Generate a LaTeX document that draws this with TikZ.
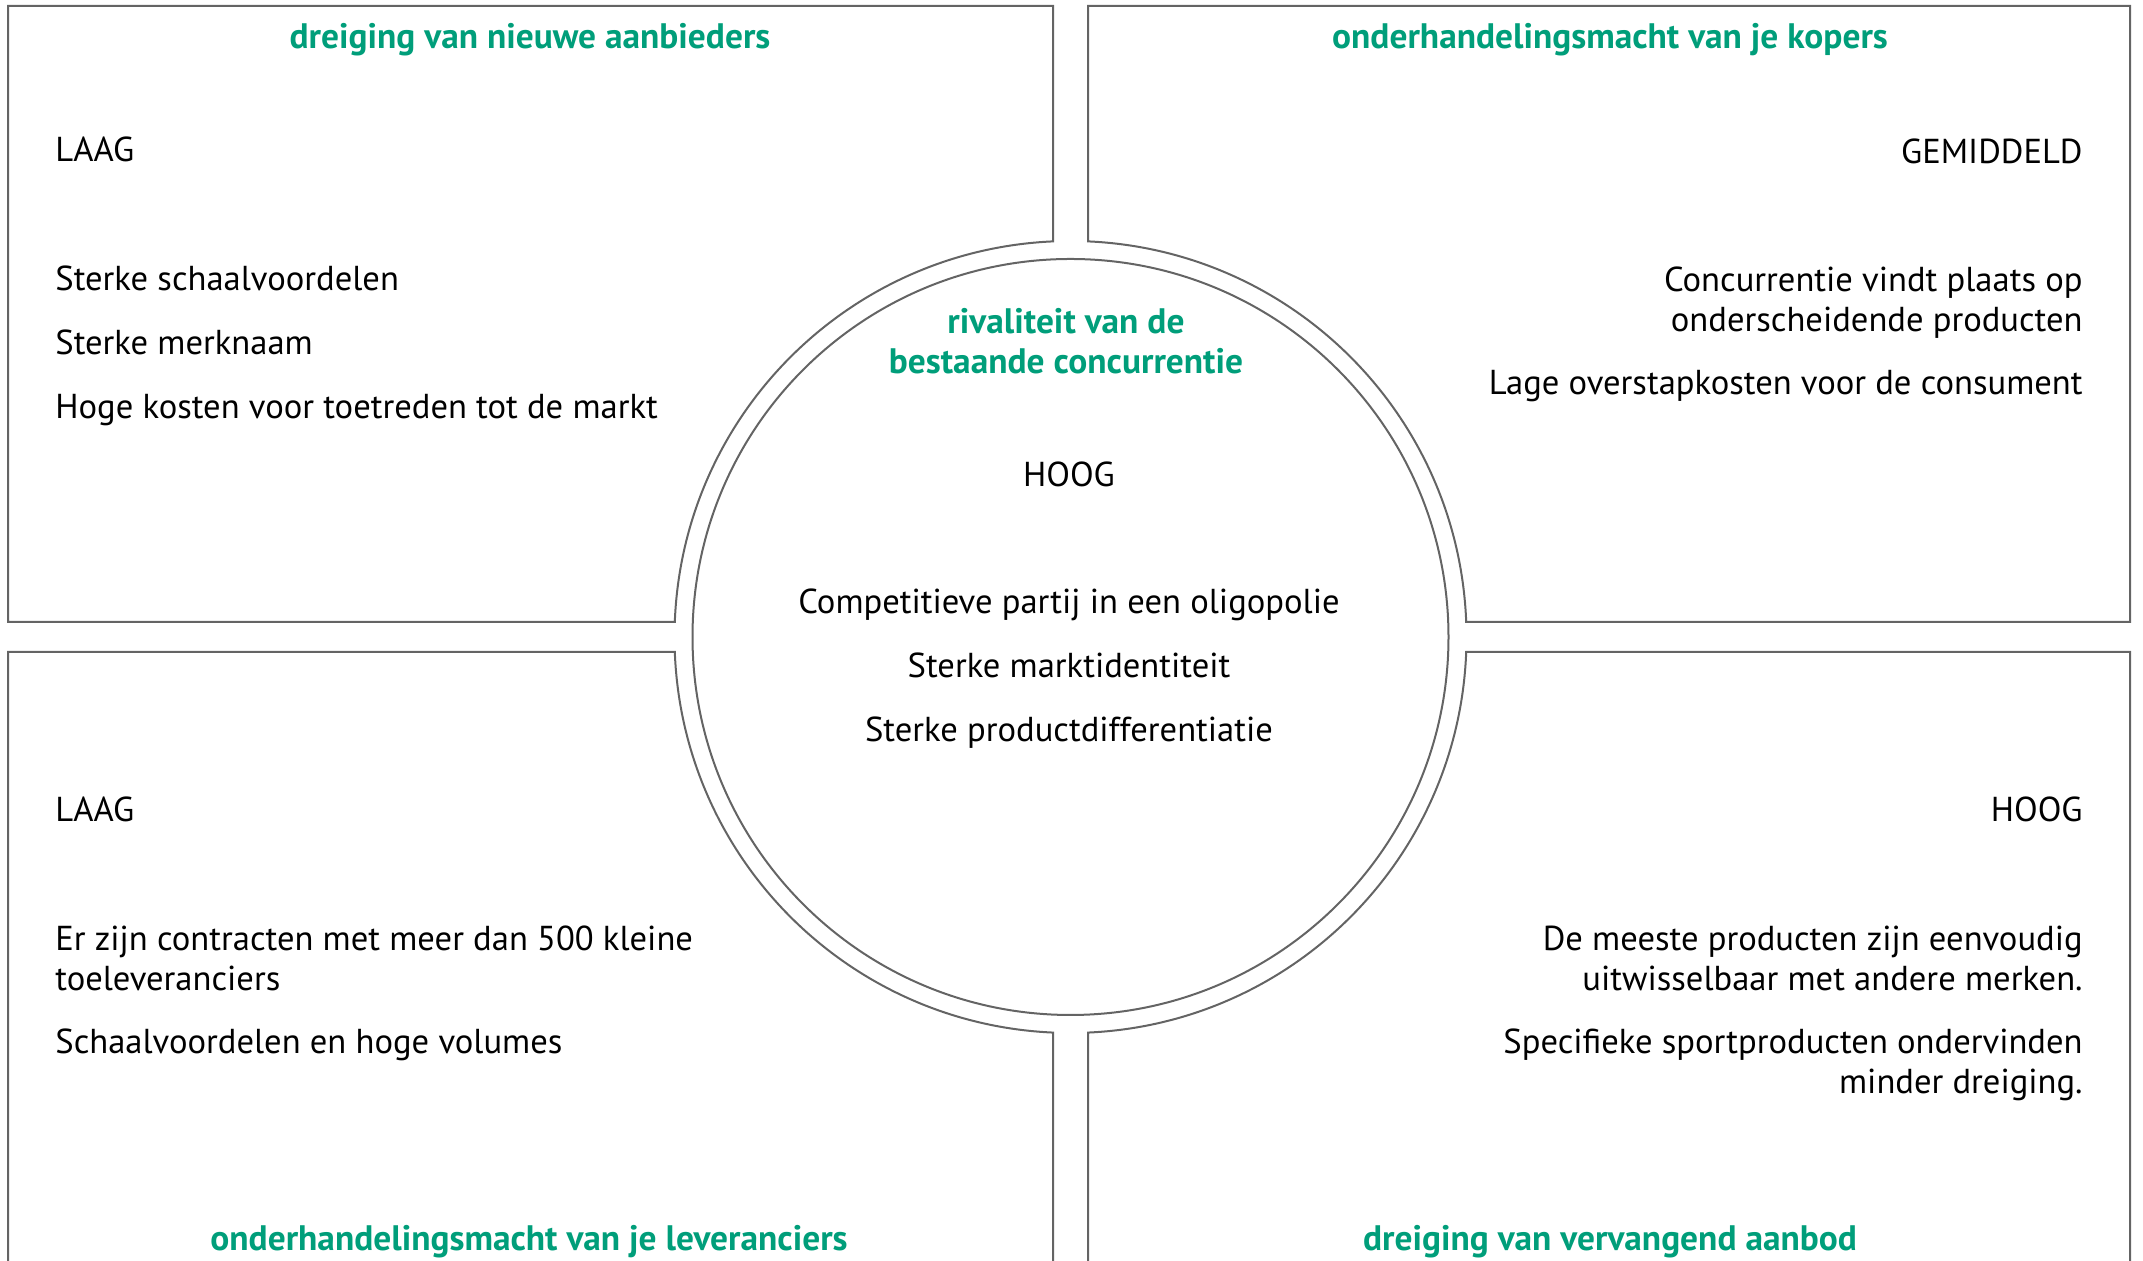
\documentclass[tikz,border=0pt]{standalone}
\usepackage{fontspec}
\setmainfont{PT Sans}
\usetikzlibrary{calc}
\definecolor{lijn}{RGB}{100,100,100}
\definecolor{groen}{RGB}{0,158,122}
\begin{document}
\begin{tikzpicture}[x=0.5pt,y=0.5pt,
  box/.style={draw=lijn,line width=1pt},
  body/.style={inner sep=0pt,font=\fontsize{17.3}{20}\selectfont,text=black},
  lefttxt/.style={body,anchor=base west,align=left},
  righttxt/.style={body,anchor=base east,align=right},
  midtxt/.style={body,anchor=base,align=center},
  lefttwo/.style={body,anchor=west,align=left},
  righttwo/.style={body,anchor=east,align=right},
  titel/.style={inner sep=0pt,font=\fontsize{17.7}{20}\selectfont\bfseries,text=groen,align=center,anchor=base},
  titeltwo/.style={titel,anchor=center}]
\useasboundingbox (0,0) rectangle (2143,1261);
\pgfmathsetmacro\ax{asin(17.5/396)}
\pgfmathsetmacro\ay{asin(15/396)}
\coordinate (C) at (1070.5,624);
% boxes
\pgfmathsetmacro\aa{90+\ax}\pgfmathsetmacro\ab{180-\ay}
\draw[box] (1053,1255) -- ([shift={(\aa:198pt)}]C) arc[start angle=\aa,end angle=\ab,radius=198pt] -- (8,639) -- (8,1255) -- cycle;
\pgfmathsetmacro\aa{90-\ax}\pgfmathsetmacro\ab{\ay}
\draw[box] (1088,1255) -- ([shift={(\aa:198pt)}]C) arc[start angle=\aa,end angle=\ab,radius=198pt] -- (2130,639) -- (2130,1255) -- cycle;
\pgfmathsetmacro\aa{270-\ax}\pgfmathsetmacro\ab{180+\ay}
\draw[box] (1053,-20) -- ([shift={(\aa:198pt)}]C) arc[start angle=\aa,end angle=\ab,radius=198pt] -- (8,609) -- (8,-20);
\pgfmathsetmacro\aa{270+\ax}\pgfmathsetmacro\ab{360-\ay}
\draw[box] (1088,-20) -- ([shift={(\aa:198pt)}]C) arc[start angle=\aa,end angle=\ab,radius=198pt] -- (2130,609) -- (2130,-20);
% inner circle
\draw[box] (C) circle[radius=189pt];
% top left
\node[titel] (tlt) at (530,1212) {dreiging van nieuwe aanbieders};
\node[lefttxt] (tl0) at (55,1099) {LAAG};
\node[lefttxt] (tl1) at (55,970) {Sterke schaalvoordelen};
\node[lefttxt] (tl2) at (55,906) {Sterke merknaam};
\node[lefttxt] (tl3) at (55,842) {Hoge kosten voor toetreden tot de markt};
% top right
\node[titel] (trt) at (1610,1212) {onderhandelingsmacht van je kopers};
\node[righttxt] (tr0) at (2083,1097) {GEMIDDELD};
\node[righttwo] (tr1) at (2083,958) {Concurrentie vindt plaats op\\onderscheidende producten};
\node[righttxt] (tr2) at (2083,866) {Lage overstapkosten voor de consument};
% centre
\node[titeltwo] (ct) at (1066,920) {rivaliteit van de\\bestaande concurrentie};
\node[midtxt] (c0) at (1069,774) {HOOG};
\node[midtxt] (c1) at (1069,647) {Competitieve partij in een oligopolie};
\node[midtxt] (c2) at (1069,583) {Sterke marktidentiteit};
\node[midtxt] (c3) at (1069,519) {Sterke productdifferentiatie};
% bottom left
\node[lefttxt] (bl0) at (55,439) {LAAG};
\node[lefttwo] (bl1) at (55,303) {Er zijn contracten met meer dan 500 kleine\\toeleveranciers};
\node[lefttxt] (bl2) at (55,207) {Schaalvoordelen en hoge volumes};
\node[titel] (blt) at (529,10) {onderhandelingsmacht van je leveranciers};
% bottom right
\node[righttxt] (br0) at (2083,439) {HOOG};
\node[righttwo] (br1) at (2083,303) {De meeste producten zijn eenvoudig\\uitwisselbaar met andere merken.};
\node[righttwo] (br2) at (2083,196) {Specifieke sportproducten ondervinden\\minder dreiging.};
\node[titel] (brt) at (1610,10) {dreiging van vervangend aanbod};
\end{tikzpicture}
\end{document}
